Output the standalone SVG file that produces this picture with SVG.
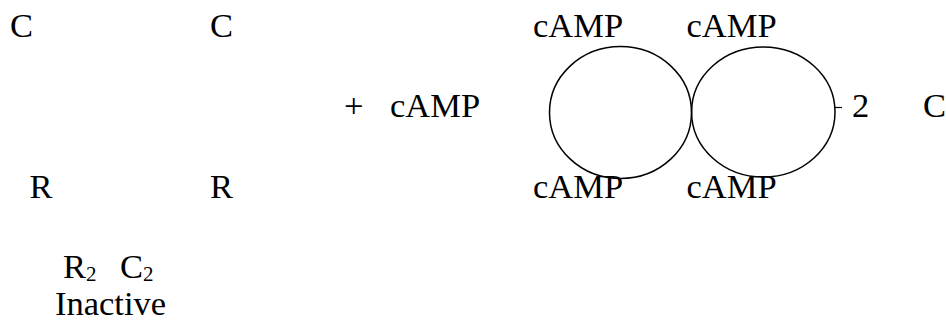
<svg xmlns="http://www.w3.org/2000/svg" width="946" height="322" viewBox="0 0 946 322">
<style>
text{font-family:"Liberation Serif","Times New Roman",serif;font-size:34.5px;fill:#000}
.sub{font-size:21px}
.ring{fill:none;stroke:#000;stroke-width:1.5}
</style>
<rect width="946" height="322" fill="#fff"/>
<g id="inactive-complex">
<text x="10" y="37">C</text>
<text x="210" y="37">C</text>
<text x="29.5" y="198">R</text>
<text x="210" y="198">R</text>
<text x="63" y="278">R<tspan class="sub" dy="3">2</tspan></text>
<text x="120" y="278">C<tspan class="sub" dy="3">2</tspan></text>
<text x="55" y="315">Inactive</text>
</g>
<g id="plus-camp">
<text x="344" y="117">+</text>
<text x="390" y="117">cAMP</text>
</g>
<g id="regulatory-dimer">
<ellipse class="ring" cx="620.5" cy="112.5" rx="71" ry="66"/>
<ellipse class="ring" cx="763.3" cy="112" rx="71.7" ry="65"/>
<text x="533" y="37">cAMP</text>
<text x="686.5" y="37">cAMP</text>
<text x="533" y="198">cAMP</text>
<text x="686.5" y="198">cAMP</text>
</g>
<g id="connectors">
<line x1="835" y1="107.5" x2="842" y2="107.5" stroke="#000" stroke-width="1.2"/>
</g>
<g id="catalytic">
<text x="852" y="117">2</text>
<text x="923" y="117">C</text>
</g>
</svg>
